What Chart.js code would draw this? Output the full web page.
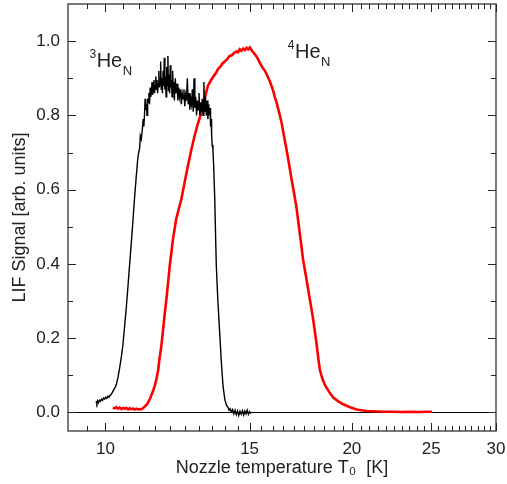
<!DOCTYPE html>
<html><head><meta charset="utf-8">
<script src="https://cdn.jsdelivr.net/npm/chart.js@4/dist/chart.umd.min.js"></script>
<style>html,body{margin:0;padding:0;background:#fff}</style>
</head><body>
<canvas id="c" width="507" height="484"></canvas>
<script>
// ---- data ----
const he3Temp = [9.74,9.76,9.78,9.80,9.83,9.86,9.89,9.92,9.95,9.98,10.01,10.04,10.07,10.10,10.13,10.16,
10.22,10.28,10.31,10.36,10.40,10.45,10.50,10.55,10.60,10.65,10.70,10.75,10.80,10.85,10.90,10.95,10.98,11.01,11.03,11.06,11.09,11.12,11.14,11.16,11.18,11.20,11.22,11.24,11.26,11.28,11.30,11.32,11.34,11.36,11.38,11.40,11.42,11.44,11.46,11.48,11.50,11.52,11.54,11.56,11.58,11.60,11.62,11.64,11.66,11.68,11.70,11.72,11.74,11.76,11.78,11.80,11.82,11.84,11.86,11.88,11.90,11.92,11.94,11.96,11.98,12.00,12.02,12.04,12.06,12.08,12.10,12.12,12.14,12.17,12.20,12.23,12.26,12.29,12.32,12.35,12.38,12.41,12.44,12.47,12.50,12.53,12.56,12.59,12.62,12.65,12.68,12.71,12.74,12.77,12.80,12.83,12.86,12.89,12.92,12.95,12.98,13.01,13.04,13.07,13.10,13.13,13.16,13.19,13.22,13.25,13.28,13.31,13.34,13.37,13.40,13.42,13.44,13.46,13.48,13.50,13.53,13.56,13.60,13.63,13.66,13.72,13.79,13.85,13.92,13.99,14.05,14.12,14.16,14.20,14.25,14.30,14.35,14.40,14.45,14.50,14.55,14.60,14.65,14.70,14.75,14.80,14.85,14.90,14.95,15.00,15.05];
const he3Signal = [0.030,0.024,0.031,0.026,0.033,0.030,0.036,0.033,0.039,0.036,0.041,0.038,0.044,0.041,0.046,0.048,
0.058,0.068,0.075,0.095,0.116,0.145,0.179,0.228,0.278,0.335,0.394,0.452,0.511,0.574,0.630,0.682,0.700,0.712,0.745,0.736,0.760,0.790,0.770,0.800,0.845,0.815,0.830,0.800,0.845,0.835,0.860,0.830,0.875,0.850,0.862,0.890,0.855,0.870,0.895,0.860,0.880,0.905,0.870,0.895,0.860,0.885,0.920,0.875,0.890,0.945,0.870,0.900,0.860,0.920,0.880,0.955,0.870,0.905,0.850,0.930,0.880,0.960,0.865,0.910,0.860,0.935,0.875,0.895,0.850,0.920,0.870,0.890,0.840,0.900,0.860,0.885,0.840,0.875,0.850,0.870,0.830,0.860,0.845,0.870,0.825,0.855,0.840,0.900,0.830,0.860,0.815,0.845,0.830,0.870,0.810,0.900,0.820,0.850,0.800,0.840,0.815,0.860,0.800,0.835,0.810,0.845,0.800,0.890,0.810,0.850,0.800,0.840,0.790,0.830,0.800,0.820,0.770,0.790,0.750,0.720,0.709,0.660,0.574,0.480,0.394,0.300,0.215,0.140,0.071,0.035,0.020,0.013,0.006,0.010,0.002,0.008,-0.004,0.006,-0.006,0.004,-0.008,0.003,-0.005,0.005,-0.007,0.004,-0.004,0.006,-0.005,0.002,-0.003];
const he4Temp = [10.21,10.26,10.31,10.36,10.41,10.46,10.51,10.56,10.61,10.66,10.71,10.76,10.81,10.86,10.91,10.96,11.01,11.06,11.12,11.17,11.22,11.27,11.35,11.43,11.49,11.54,11.60,11.64,11.70,11.75,11.81,11.87,11.93,11.98,12.04,12.09,12.15,12.20,12.29,12.38,12.50,12.61,12.73,12.85,12.97,13.10,13.22,13.34,13.45,13.55,13.65,13.73,13.82,13.90,14.00,14.09,14.18,14.27,14.36,14.45,14.52,14.59,14.66,14.73,14.80,14.87,14.94,15.01,15.08,15.15,15.22,15.30,15.37,15.43,15.50,15.58,15.65,15.73,15.80,15.88,15.95,16.03,16.10,16.18,16.30,16.41,16.52,16.64,16.76,16.88,17.03,17.12,17.28,17.44,17.60,17.77,17.94,18.11,18.20,18.28,18.40,18.54,18.75,18.98,19.25,19.52,19.90,20.27,20.55,20.85,21.30,21.85,22.40,23.00,23.60,24.20,24.70,25.05];
const he4Signal = [0.013,0.011,0.014,0.010,0.013,0.009,0.012,0.010,0.012,0.008,0.011,0.009,0.010,0.008,0.010,0.008,0.009,0.008,0.012,0.016,0.020,0.026,0.040,0.057,0.073,0.089,0.115,0.143,0.178,0.215,0.262,0.305,0.352,0.394,0.432,0.466,0.495,0.520,0.548,0.574,0.622,0.664,0.707,0.745,0.778,0.808,0.846,0.880,0.894,0.905,0.915,0.925,0.932,0.940,0.946,0.952,0.960,0.962,0.968,0.972,0.970,0.978,0.974,0.980,0.976,0.982,0.978,0.983,0.976,0.970,0.965,0.958,0.950,0.943,0.935,0.926,0.921,0.912,0.902,0.892,0.880,0.866,0.850,0.835,0.808,0.781,0.746,0.709,0.669,0.628,0.580,0.550,0.480,0.410,0.360,0.305,0.250,0.185,0.145,0.115,0.092,0.074,0.056,0.040,0.030,0.022,0.014,0.008,0.006,0.004,0.003,0.002,0.002,0.001,0.002,0.001,0.002,0.002];

const xMajorTicks = [10, 15, 20, 25, 30];
const xTickLabels = ['10', '15', '20', '25', '30'];
const yMajorTicks = [0, 0.2, 0.4, 0.6, 0.8, 1.0];
const yTickLabels = ['0.0', '0.2', '0.4', '0.6', '0.8', '1.0'];
const yMinorTicks = [0.1, 0.3, 0.5, 0.7, 0.9];
const labelSup = ['3', '4'];
const labelMain = ['He', 'He'];
const labelSub = ['N', 'N'];
const labelTemp = [9.56, 16.7];
const labelSignal = [0.93, 0.955];

const xMinorTicks = [];
for (let v = 9.5; v < 30; v += 0.5) { if (!xMajorTicks.includes(v)) xMinorTicks.push(v); }

const FONT = "'Liberation Sans', Arial, Helvetica, sans-serif";
const TXT = '#222';

const framePlugin = {
  id: 'frame',
  afterDatasetsDraw(chart) {
    const {ctx, chartArea: a, scales: {x, y}} = chart;
    ctx.save();
    ctx.strokeStyle = '#222';
    ctx.lineWidth = 1.2;
    ctx.strokeRect(a.left, a.top, a.right - a.left, a.bottom - a.top);
    ctx.lineWidth = 1;
    ctx.beginPath();
    x.ticks.forEach(t => {
      const px = Math.round(x.getPixelForValue(t.value)) + 0.5;
      const len = t.major ? 8 : 5;
      ctx.moveTo(px, a.bottom); ctx.lineTo(px, a.bottom - len);
      ctx.moveTo(px, a.top); ctx.lineTo(px, a.top + len);
    });
    y.ticks.forEach(t => {
      const py = Math.round(y.getPixelForValue(t.value)) + 0.5;
      const len = t.major ? 8 : 5;
      ctx.moveTo(a.left, py); ctx.lineTo(a.left + len, py);
      ctx.moveTo(a.right, py); ctx.lineTo(a.right - len, py);
    });
    ctx.stroke();
    // species labels
    ctx.fillStyle = TXT;
    ctx.textBaseline = 'alphabetic';
    ctx.textAlign = 'left';
    for (let i = 0; i < labelMain.length; i++) {
      let px = x.getPixelForValue(labelTemp[i]);
      const py = y.getPixelForValue(labelSignal[i]);
      ctx.font = '12px ' + FONT;
      ctx.fillText(labelSup[i], px, py - 9);
      px += ctx.measureText(labelSup[i]).width + 0.5;
      ctx.font = '20px ' + FONT;
      ctx.fillText(labelMain[i], px, py);
      px += ctx.measureText(labelMain[i]).width + 0.5;
      ctx.font = '13px ' + FONT;
      ctx.fillText(labelSub[i], px, py + 8);
    }
    ctx.restore();
  }
};

new Chart(document.getElementById('c').getContext('2d'), {
  type: 'line',
  data: {
    datasets: [
      { label: '3He', data: he3Temp.map((t, i) => ({x: t, y: he3Signal[i]})),
        borderColor: '#000', borderWidth: 1.4, pointRadius: 0, tension: 0, fill: false },
      { label: '4He', data: he4Temp.map((t, i) => ({x: t, y: he4Signal[i]})),
        borderColor: '#ff0000', borderWidth: 2.6, pointRadius: 0, tension: 0, fill: false }
    ]
  },
  options: {
    responsive: false, animation: false, devicePixelRatio: 1,
    layout: { padding: { top: 4, right: 11, left: 0, bottom: 0 } },
    plugins: { legend: { display: false }, tooltip: { enabled: false } },
    scales: {
      x: {
        type: 'logarithmic', min: 9, max: 30,
        afterBuildTicks(s) {
          const vals = xMajorTicks.concat(xMinorTicks).sort((a, b) => a - b);
          s.ticks = vals.map(v => ({ value: v, major: xMajorTicks.includes(v) }));
        },
        afterFit(s) { s.height = 53; s.paddingLeft = 0; s.paddingRight = 0; },
        grid: { display: false, drawTicks: false },
        border: { display: false },
        ticks: {
          autoSkip: false, maxRotation: 0, minRotation: 0, padding: 8, color: TXT,
          font: { family: FONT, size: 17 },
          callback(v) { const i = xMajorTicks.indexOf(v); return i >= 0 ? xTickLabels[i] : ''; }
        },
        title: { display: true, text: 'Nozzle temperature T\u2080  [K]', color: TXT,
          font: { family: FONT, size: 18 }, padding: { top: 0, bottom: 5 } }
      },
      y: {
        type: 'linear', min: -0.05, max: 1.1,
        afterBuildTicks(s) {
          const vals = yMajorTicks.concat(yMinorTicks).sort((a, b) => a - b);
          s.ticks = vals.map(v => ({ value: v, major: yMajorTicks.includes(v) }));
        },
        afterFit(s) { s.width = 68; s.paddingTop = 0; s.paddingBottom = 0; },
        grid: { display: true, drawTicks: false,
          color: c => (c.tick && c.tick.value === 0) ? '#000' : 'rgba(0,0,0,0)', lineWidth: 1 },
        border: { display: false },
        ticks: {
          autoSkip: false, padding: 8, color: TXT, font: { family: FONT, size: 17 },
          callback(v) { const i = yMajorTicks.indexOf(v); return i >= 0 ? yTickLabels[i] : ''; }
        },
        title: { display: true, text: 'LIF Signal [arb. units]', color: TXT,
          font: { family: FONT, size: 18 }, padding: { top: 9, bottom: 0 } }
      }
    }
  },
  plugins: [framePlugin]
});
</script>
</body></html>
